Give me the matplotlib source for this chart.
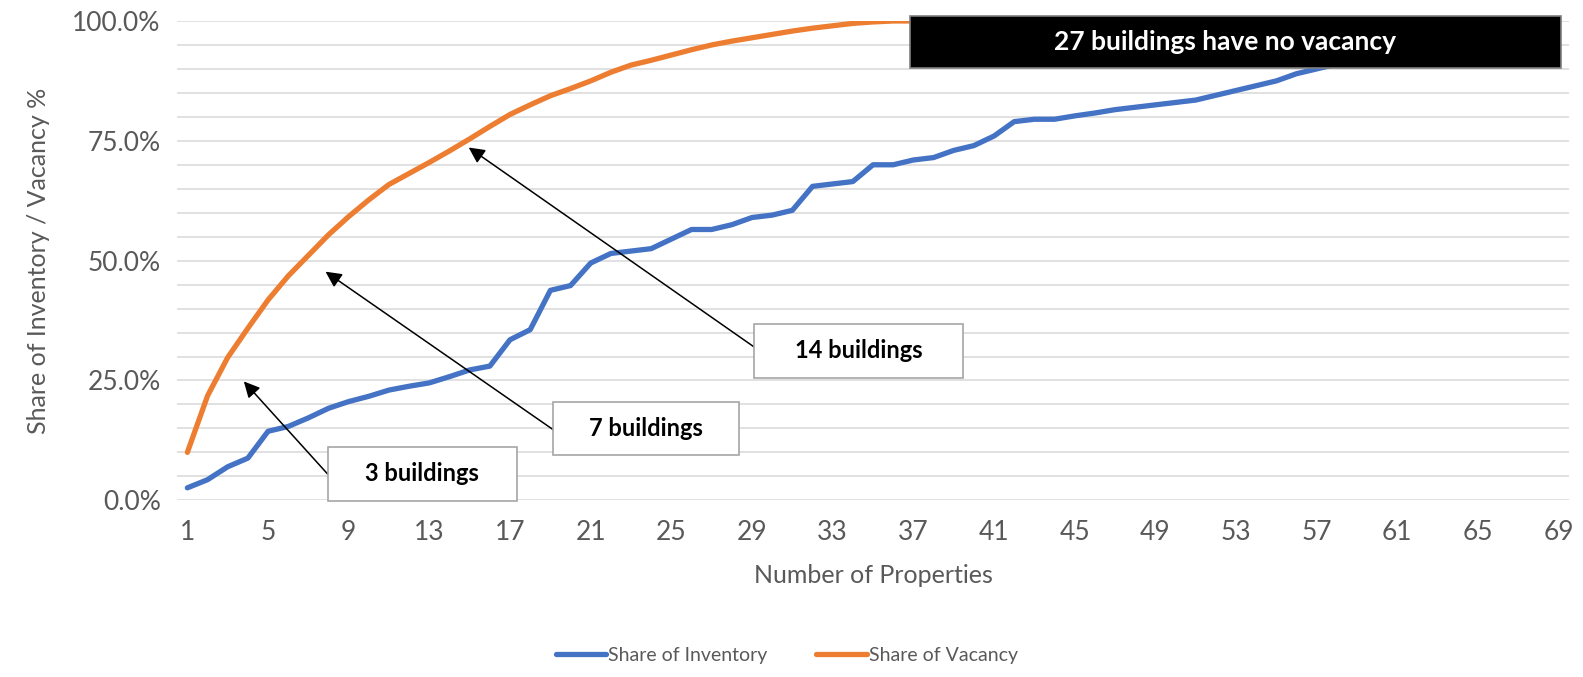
import numpy as np
import matplotlib
matplotlib.use("Agg")
import matplotlib.pyplot as plt
from matplotlib.patches import Rectangle
from matplotlib.ticker import MultipleLocator, PercentFormatter

# cumulative shares (%), property 1..69
properties = np.arange(1, 70)
share_inventory = [
    2.6, 4.3, 7.0, 8.8, 14.4, 15.4, 17.2, 19.2, 20.6, 21.7,
    23.0, 23.8, 24.5, 25.8, 27.2, 28.0, 33.5, 35.6, 43.8, 44.8,
    49.5, 51.5, 52.0, 52.5, 54.5, 56.5, 56.5, 57.5, 59.0, 59.5,
    60.5, 65.5, 66.0, 66.5, 70.0, 70.0, 71.0, 71.5, 73.0, 74.0,
    76.0, 79.0, 79.5, 79.5, 80.2, 80.8, 81.5, 82.0, 82.5, 83.0,
    83.5, 84.5, 85.5, 86.5, 87.5, 89.0, 90.0, 91.0, 92.0, 93.0,
    94.0, 95.0, 96.0, 97.0, 97.5, 98.0, 98.7, 99.3, 100.0,
]
share_vacancy = [
    10.0, 21.8, 29.8, 35.9, 41.8, 46.8, 51.1, 55.4, 59.2, 62.7,
    65.9, 68.2, 70.5, 72.9, 75.4, 78.0, 80.5, 82.5, 84.4, 85.9,
    87.5, 89.3, 90.8, 91.8, 92.9, 94.0, 95.0, 95.8, 96.5, 97.2,
    97.9, 98.5, 99.0, 99.5, 99.8, 100.0,
] + [100.0] * 33

tick_labels = [str(v) for v in range(1, 70, 4)]

# callouts: label, arrow tip, arrow tail, box (x0, y0, x1, y1)
callouts = [
    ("3 buildings", (3.8, 24.8), (7.95, 5.5), (7.95, -0.2, 17.35, 11.2)),
    ("7 buildings", (7.85, 47.7), (19.15, 14.7), (19.15, 9.5, 28.35, 20.6)),
    ("14 buildings", (14.95, 73.6), (29.1, 32.0), (29.1, 25.5, 39.45, 36.8)),
]
note_text = "27 buildings have no vacancy"
note_box = (36.85, 90.1, 69.1, 101.0)

BLUE = "#4472C4"
ORANGE = "#ED7D31"
GREY = "#595959"

plt.rcParams["font.family"] = ["Lato", "DejaVu Sans"]

fig = plt.figure(figsize=(15.83, 6.77), dpi=100)
ax = fig.add_axes([0.112, 0.261, 0.879, 0.708])

ax.plot(properties, share_inventory, color=BLUE, lw=3.8, label="Share of Inventory",
        solid_capstyle="round", zorder=3)
ax.plot(properties, share_vacancy, color=ORANGE, lw=3.8, label="Share of Vacancy",
        solid_capstyle="round", zorder=3)

ax.set_xlim(0.5, 69.5)
ax.set_ylim(0, 100)
ax.set_xticks(range(1, 70, 4))
ax.set_xticklabels(tick_labels)
ax.yaxis.set_major_locator(MultipleLocator(25))
ax.yaxis.set_minor_locator(MultipleLocator(5))
ax.yaxis.set_major_formatter(PercentFormatter(decimals=1))
ax.grid(axis="y", which="both", color="#D9D9D9", lw=1.1)
ax.set_axisbelow(True)
for s in ax.spines.values():
    s.set_visible(False)
ax.tick_params(axis="both", which="both", length=0, labelsize=19, colors=GREY, pad=12)
ax.tick_params(axis="x", pad=14)

ax.set_xlabel("Number of Properties", fontsize=18, color=GREY, labelpad=14)
ax.set_ylabel("Share of Inventory / Vacancy %", fontsize=18, color=GREY, labelpad=16)

for label, tip, tail, (x0, y0, x1, y1) in callouts:
    ax.annotate("", xy=tip, xytext=tail,
                arrowprops=dict(arrowstyle="-|>", color="black", lw=1.1,
                                mutation_scale=24, shrinkA=0, shrinkB=0),
                zorder=4)
    ax.add_patch(Rectangle((x0, y0), x1 - x0, y1 - y0, facecolor="white",
                           edgecolor="#A6A6A6", lw=1.2, zorder=5, clip_on=False))
    ax.text((x0 + x1) / 2, (y0 + y1) / 2, label, ha="center", va="center",
            fontsize=17, fontweight="bold", color="black", zorder=6)

x0, y0, x1, y1 = note_box
ax.add_patch(Rectangle((x0, y0), x1 - x0, y1 - y0, facecolor="black",
                       edgecolor="#7F7F7F", lw=1.2, zorder=5, clip_on=False))
ax.text((x0 + x1) / 2 - 0.5, (y0 + y1) / 2, note_text, ha="center", va="center",
        fontsize=19, fontweight="bold", color="white", zorder=6)

fig.legend(loc="center", bbox_to_anchor=(0.497, 0.032), ncol=2, frameon=False,
           fontsize=14, labelcolor=GREY, handlelength=2.6, handletextpad=0.1,
           columnspacing=2.5)

fig.savefig("out.png", dpi=100)
